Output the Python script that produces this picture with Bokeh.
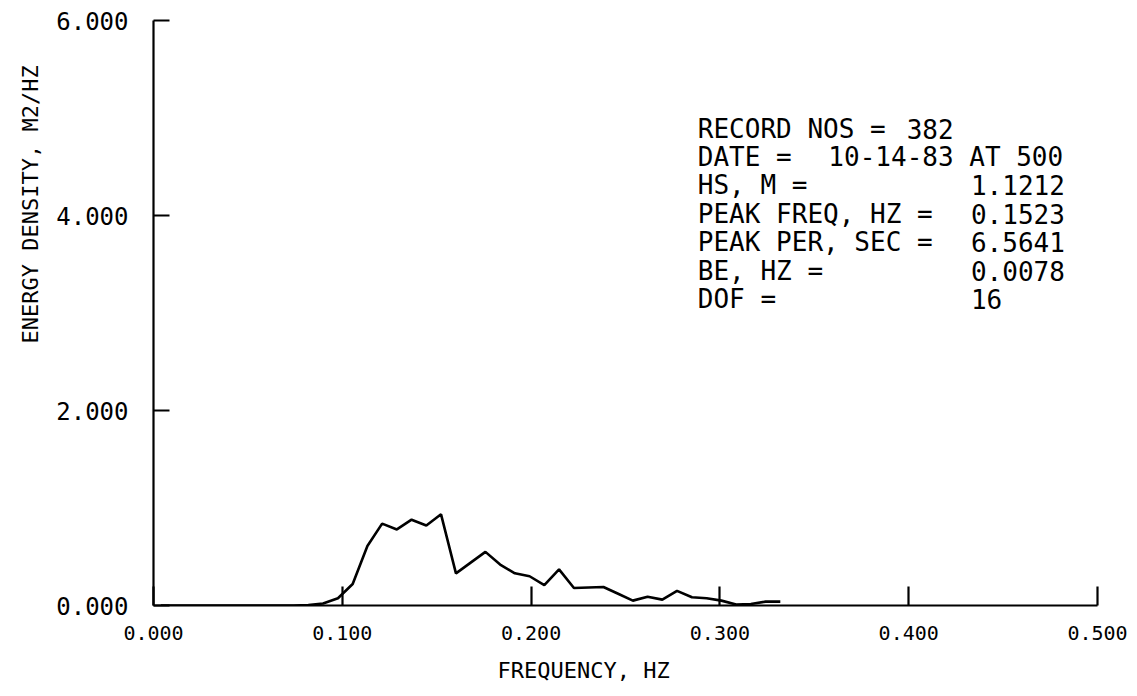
from bokeh.plotting import figure
from bokeh.models import Range1d, FixedTicker, PrintfTickFormatter, Title, ColumnDataSource
from bokeh.core.properties import value
from bokeh.embed import file_html
from bokeh.resources import INLINE

# ---- data ----
freq_hz = [0.0039, 0.0117, 0.0195, 0.0273, 0.0352, 0.0430, 0.0508, 0.0586, 0.0664, 0.0742,
           0.0820, 0.0898, 0.0977, 0.1055, 0.1133, 0.1211, 0.1289, 0.1367, 0.1445, 0.1523,
           0.1602, 0.1680, 0.1758, 0.1836, 0.1914, 0.1992, 0.2070, 0.2148, 0.2227, 0.2305,
           0.2383, 0.2461, 0.2539, 0.2617, 0.2695, 0.2773, 0.2852, 0.2930, 0.3008, 0.3086,
           0.3164, 0.3242, 0.3320]
energy_density = [0.0, 0.0, 0.0, 0.0, 0.0, 0.0, 0.0, 0.0, 0.0, 0.0,
                  0.005, 0.02, 0.075, 0.22, 0.61, 0.84, 0.78, 0.88, 0.82, 0.935,
                  0.33, 0.44, 0.55, 0.42, 0.33, 0.30, 0.21, 0.37, 0.18, 0.185,
                  0.19, 0.12, 0.05, 0.09, 0.06, 0.15, 0.085, 0.075, 0.05, 0.01,
                  0.015, 0.04, 0.04]

x_ticks = [0.0, 0.1, 0.2, 0.3, 0.4, 0.5]
y_ticks = [0.0, 2.0, 4.0, 6.0]

info_labels = ["RECORD NOS =", "DATE =", "HS, M =", "PEAK FREQ, HZ =", "PEAK PER, SEC =", "BE, HZ =", "DOF ="]
info_values = ["382", "10-14-83 AT 500", "1.1212", "0.1523", "6.5641", "0.0078", "16"]

x_title = "FREQUENCY, HZ"
y_title = "ENERGY DENSITY, M2/HZ"

FONT = "DejaVu Sans Mono"

p = figure(width=1137, height=696, output_backend="svg", toolbar_location=None,
           x_range=Range1d(0, 0.5), y_range=Range1d(0, 6),
           min_border_left=153, min_border_right=40, min_border_top=20, min_border_bottom=91)
p.outline_line_color = None
p.xgrid.visible = False
p.ygrid.visible = False
p.background_fill_color = "white"
p.border_fill_color = "white"

p.line(freq_hz, energy_density, line_color="black", line_width=2.6)

# axes
xa = p.xaxis[0]
xa.ticker = FixedTicker(ticks=x_ticks)
xa.formatter = PrintfTickFormatter(format="%.3f")
xa.major_tick_in = 19
xa.major_tick_out = 0
xa.minor_tick_line_color = None
xa.axis_line_width = 2.2
xa.major_tick_line_width = 2.2
xa.axis_line_color = "black"
xa.major_tick_line_color = "black"
xa.major_label_text_font = FONT
xa.major_label_text_font_size = "20px"
xa.major_label_text_color = "black"
xa.major_label_standoff = 20

ya = p.yaxis[0]
ya.ticker = FixedTicker(ticks=y_ticks)
ya.formatter = PrintfTickFormatter(format="%.3f")
ya.major_tick_in = 16
ya.major_tick_out = 0
ya.minor_tick_line_color = None
ya.axis_line_width = 2.2
ya.major_tick_line_width = 2.2
ya.axis_line_color = "black"
ya.major_tick_line_color = "black"
ya.major_label_text_font = FONT
ya.major_label_text_font_size = "24px"
ya.major_label_text_color = "black"
ya.major_label_standoff = 25

# axis titles (offset from the frame centre, as in the reference)
p.add_layout(Title(text=y_title, align="left", offset=262, standoff=22,
                   text_font=FONT, text_font_size="22px", text_font_style="normal",
                   text_color="black"), "left")
p.add_layout(Title(text=x_title, align="left", offset=344, standoff=26,
                   text_font=FONT, text_font_size="22px", text_font_style="normal",
                   text_color="black"), "below")

def dx(px):
    return (px - 153) / 1880.0

def dy(py):
    return (605 - py) / 97.5

# info block
row_y = [dy(128 + 28.4 * i) for i in range(len(info_labels))]
val_px = [903, 825, 967, 967, 967, 967, 967]
src_l = ColumnDataSource(dict(x=[dx(695)] * len(info_labels), y=row_y, t=info_labels))
src_v = ColumnDataSource(dict(x=[dx(v) for v in val_px], y=row_y, t=info_values))
p.text(x="x", y="y", text="t", source=src_l, text_font=value(FONT), text_font_size="26px",
       text_color="black", text_align="left", text_baseline="middle")
p.text(x="x", y="y", text="t", source=src_v, text_font=value(FONT), text_font_size="26px",
       text_color="black", text_align="left", text_baseline="middle")

open("out.html", "w").write(file_html(p, INLINE))
